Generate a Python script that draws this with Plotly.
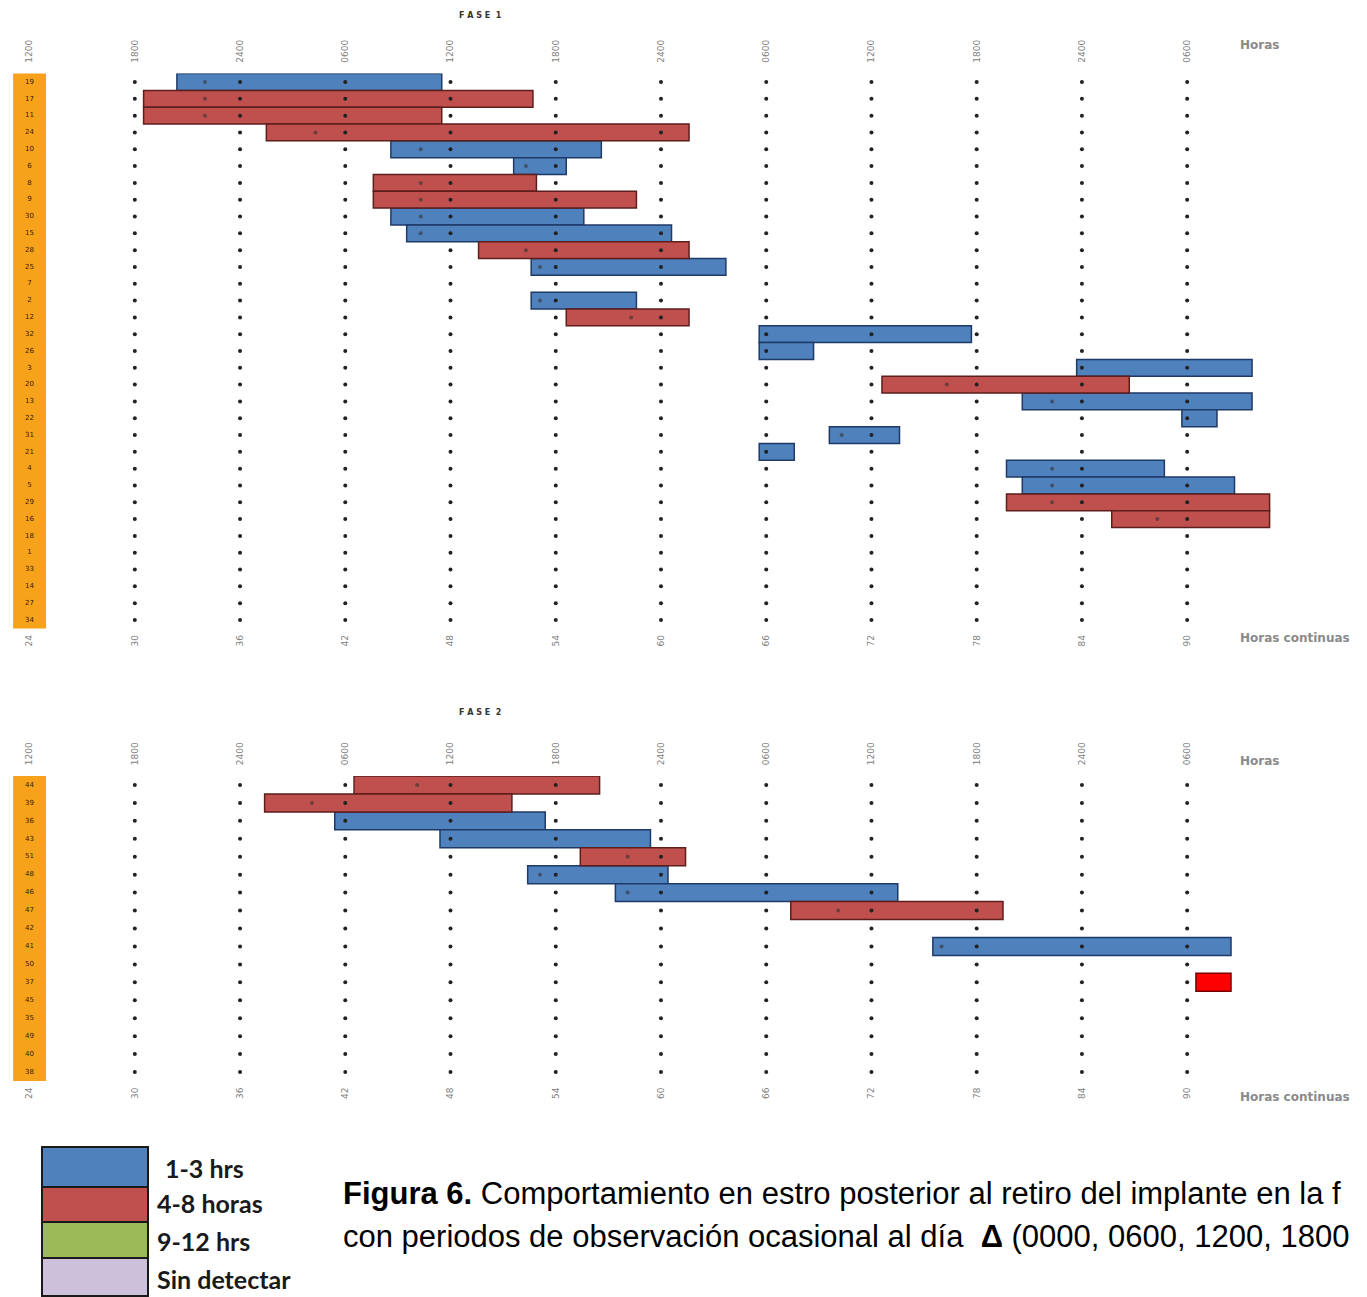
import plotly.graph_objects as go

W, H = 1367, 1297
OFF = 8  # page body margin offset in the browser
XR = [22.77, 100.71]

# ---------------- data ----------------
hour_ticks = [24, 30, 36, 42, 48, 54, 60, 66, 72, 78, 84, 90]
clock_labels = ["1200", "1800", "2400", "0600", "1200", "1800", "2400", "0600", "1200", "1800", "2400", "0600"]
grid_hours = [30, 36, 42, 48, 54, 60, 66, 72, 78, 84, 90]

f1_rows = ["19", "17", "11", "24", "10", "6", "8", "9", "30", "15", "28", "25", "7", "2", "12", "32", "26",
           "3", "20", "13", "22", "31", "21", "4", "5", "29", "16", "18", "1", "33", "14", "27", "34"]
f1_bar_row = [0, 1, 2, 3, 4, 5, 6, 7, 8, 9, 10, 11, 13, 14, 15, 16, 17, 18, 19, 20, 21, 22, 23, 24, 25, 26]
f1_bar_start = [32.4, 30.5, 30.5, 37.5, 44.6, 51.6, 43.6, 43.6, 44.6, 45.5, 49.6, 52.6, 52.6, 54.6,
                65.6, 65.6, 83.7, 72.6, 80.6, 89.7, 69.6, 65.6, 79.7, 80.6, 79.7, 85.7]
f1_bar_end = [47.5, 52.7, 47.5, 61.6, 56.6, 54.6, 52.9, 58.6, 55.6, 60.6, 61.6, 63.7, 58.6, 61.6,
              77.7, 68.7, 93.7, 86.7, 93.7, 91.7, 73.6, 67.6, 88.7, 92.7, 94.7, 94.7]
f1_bar_cat = ["1-3 hrs", "4-8 horas", "4-8 horas", "4-8 horas", "1-3 hrs", "1-3 hrs", "4-8 horas", "4-8 horas",
              "1-3 hrs", "1-3 hrs", "4-8 horas", "1-3 hrs", "1-3 hrs", "4-8 horas", "1-3 hrs", "1-3 hrs",
              "1-3 hrs", "4-8 horas", "1-3 hrs", "1-3 hrs", "1-3 hrs", "1-3 hrs", "1-3 hrs", "1-3 hrs",
              "4-8 horas", "4-8 horas"]
f1_obs_row = [0, 1, 2, 3, 4, 5, 6, 7, 8, 9, 10, 11, 13, 14, 18, 19, 21, 23, 24, 25, 26]
f1_obs_hour = [34.0, 34.0, 34.0, 40.3, 46.3, 52.3, 46.3, 46.3, 46.3, 46.3, 52.3, 53.1, 53.1, 58.3,
               76.3, 82.3, 70.3, 82.3, 82.3, 82.3, 88.3]

f2_rows = ["44", "39", "36", "43", "51", "48", "46", "47", "42", "41", "50", "37", "45", "35", "49", "40", "38"]
f2_bar_row = [0, 1, 2, 3, 4, 5, 6, 7, 9, 11]
f2_bar_start = [42.5, 37.4, 41.4, 47.4, 55.4, 52.4, 57.4, 67.4, 75.5, 90.5]
f2_bar_end = [56.5, 51.5, 53.4, 59.4, 61.4, 60.4, 73.5, 79.5, 92.5, 92.5]
f2_bar_cat = ["4-8 horas", "4-8 horas", "1-3 hrs", "1-3 hrs", "4-8 horas", "1-3 hrs", "1-3 hrs",
              "4-8 horas", "1-3 hrs", "otro"]
f2_obs_row = [0, 1, 4, 5, 6, 7, 9]
f2_obs_hour = [46.1, 40.1, 58.1, 53.1, 58.1, 70.1, 76.0]

legend_cats = ["1-3 hrs", "4-8 horas", "9-12 hrs", "Sin detectar"]

caption_1 = "<b>Figura 6.</b> Comportamiento en estro posterior al retiro del implante en la f"
caption_2 = "con periodos de observación ocasional al día  <b>Δ</b> (0000, 0600, 1200, 1800"

# ---------------- styles ----------------
fill = {"1-3 hrs": "#4F81BD", "4-8 horas": "#C0504D", "9-12 hrs": "#9BBB59",
        "Sin detectar": "#CCC0DA", "otro": "#FF0000"}
edge = {"1-3 hrs": "#1F3A66", "4-8 horas": "#5E1E1C", "9-12 hrs": "#3E5222",
        "Sin detectar": "#555555", "otro": "#7A0000"}


def px_x(p):
    return (p - OFF) / W


def px_y(p):
    return 1 - (p - OFF) / H


fig = go.Figure()

panels = [
    dict(rows=f1_rows, br=f1_bar_row, bs=f1_bar_start, be=f1_bar_end, bc=f1_bar_cat,
         orow=f1_obs_row, oh=f1_obs_hour, xa="x", xt="x3", ya="y",
         dom=[px_y(628.4), px_y(73.6)]),
    dict(rows=f2_rows, br=f2_bar_row, bs=f2_bar_start, be=f2_bar_end, bc=f2_bar_cat,
         orow=f2_obs_row, oh=f2_obs_hour, xa="x2", xt="x4", ya="y2",
         dom=[px_y(1081), px_y(776)]),
]

shapes = []
for p in panels:
    n = len(p["rows"])
    for cat in ["1-3 hrs", "4-8 horas", "otro"]:
        idx = [i for i, c in enumerate(p["bc"]) if c == cat]
        if not idx:
            continue
        fig.add_trace(go.Bar(
            orientation="h",
            y=[p["br"][i] for i in idx],
            base=[p["bs"][i] for i in idx],
            x=[p["be"][i] - p["bs"][i] for i in idx],
            width=1.0,
            marker=dict(color=fill[cat], line=dict(color=edge[cat], width=1.5)),
            xaxis=p["xa"], yaxis=p["ya"], showlegend=False, hoverinfo="skip"))
    gx, gy = [], []
    for h in grid_hours:
        for r in range(n):
            gx.append(h)
            gy.append(r)
    fig.add_trace(go.Scatter(
        x=gx, y=gy, mode="markers",
        marker=dict(size=4, color="#222222"),
        xaxis=p["xt"], yaxis=p["ya"], showlegend=False, hoverinfo="skip"))
    fig.add_trace(go.Scatter(
        x=p["oh"], y=p["orow"], mode="markers",
        marker=dict(size=4, color="#333333", opacity=0.6),
        xaxis=p["xa"], yaxis=p["ya"], showlegend=False, hoverinfo="skip"))
    fig.add_trace(go.Scatter(
        x=[24.0] * n, y=list(range(n)), mode="text", text=p["rows"],
        textfont=dict(size=7, color="#3A1A00", family="DejaVu Sans"),
        xaxis=p["xa"], yaxis=p["ya"], showlegend=False, hoverinfo="skip"))
    shapes.append(dict(type="rect", xref=p["xa"], yref=p["ya"], x0=23.06, x1=24.94,
                       y0=-0.55, y1=n - 0.45, fillcolor="#F7A21B", line=dict(width=0),
                       layer="below"))

bottom_axis = dict(range=XR, tickvals=hour_ticks, ticktext=[str(h) for h in hour_ticks],
                   tickangle=-90, ticks="outside", ticklen=2, tickcolor="white",
                   tickfont=dict(size=9, color="#808080", family="DejaVu Sans"),
                   showgrid=False, zeroline=False, showline=False)
top_axis = dict(range=XR, tickvals=hour_ticks, ticktext=clock_labels, side="top",
                tickangle=-90, ticks="outside", ticklen=8, tickcolor="white",
                tickfont=dict(size=9, color="#808080", family="DejaVu Sans"),
                showgrid=False, zeroline=False, showline=False)

fig.update_layout(
    width=W, height=H, margin=dict(l=0, r=0, t=0, b=0),
    paper_bgcolor="white", plot_bgcolor="white", barmode="overlay",
    xaxis=dict(bottom_axis, anchor="y", domain=[0, 1]),
    xaxis3=dict(top_axis, anchor="y", overlaying="x"),
    yaxis=dict(domain=panels[0]["dom"], range=[len(f1_rows) - 0.5, -0.5], visible=False),
    xaxis2=dict(bottom_axis, anchor="y2", domain=[0, 1]),
    xaxis4=dict(top_axis, anchor="y2", overlaying="x2"),
    yaxis2=dict(domain=panels[1]["dom"], range=[len(f2_rows) - 0.5, -0.5], visible=False),
)

ann = []
small = dict(size=12, color="#8A8A8A", family="DejaVu Sans")
for ytitle, txt in [(15, "F A S E  1"), (712, "F A S E  2")]:
    ann.append(dict(x=px_x(480), y=px_y(ytitle), xref="paper", yref="paper", yanchor="middle",
                    text="<b>" + txt + "</b>", showarrow=False,
                    font=dict(size=8, color="#333333", family="DejaVu Sans")))
for yh in [45, 761]:
    ann.append(dict(x=px_x(1238), y=px_y(yh), xref="paper", yref="paper", xanchor="left",
                    yanchor="middle", text="<b>Horas</b>", showarrow=False, font=small))
for yh in [638, 1097]:
    ann.append(dict(x=px_x(1238), y=px_y(yh), xref="paper", yref="paper", xanchor="left",
                    yanchor="middle", text="<b>Horas continuas</b>", showarrow=False, font=small))

# legend boxes
box_top = 1147
box_h = [40, 35, 36, 38]
label_y = [1168, 1203, 1241, 1279]
label_x = [163, 155, 155, 155]
yy = box_top
for cat, bh, ly, lx in zip(legend_cats, box_h, label_y, label_x):
    shapes.append(dict(type="rect", xref="paper", yref="paper", x0=px_x(42), x1=px_x(148),
                       y0=px_y(yy + bh), y1=px_y(yy), fillcolor=fill[cat],
                       line=dict(color="#1A1A1A", width=2)))
    ann.append(dict(x=px_x(lx), y=px_y(ly), xref="paper", yref="paper", xanchor="left",
                    yanchor="middle", text=cat, showarrow=False,
                    font=dict(size=25, color="#1A1A1A", family="Lato", weight="bold")))
    yy += bh

cap_font = dict(size=31, color="black", family="Liberation Sans")
ann.append(dict(x=px_x(341), y=px_y(1193), xref="paper", yref="paper", xanchor="left", yanchor="middle",
                text=caption_1, showarrow=False, font=cap_font))
ann.append(dict(x=px_x(341), y=px_y(1236), xref="paper", yref="paper", xanchor="left", yanchor="middle",
                text=caption_2, showarrow=False, font=cap_font))

fig.update_layout(shapes=shapes, annotations=ann)
fig.write_html("out.html")
